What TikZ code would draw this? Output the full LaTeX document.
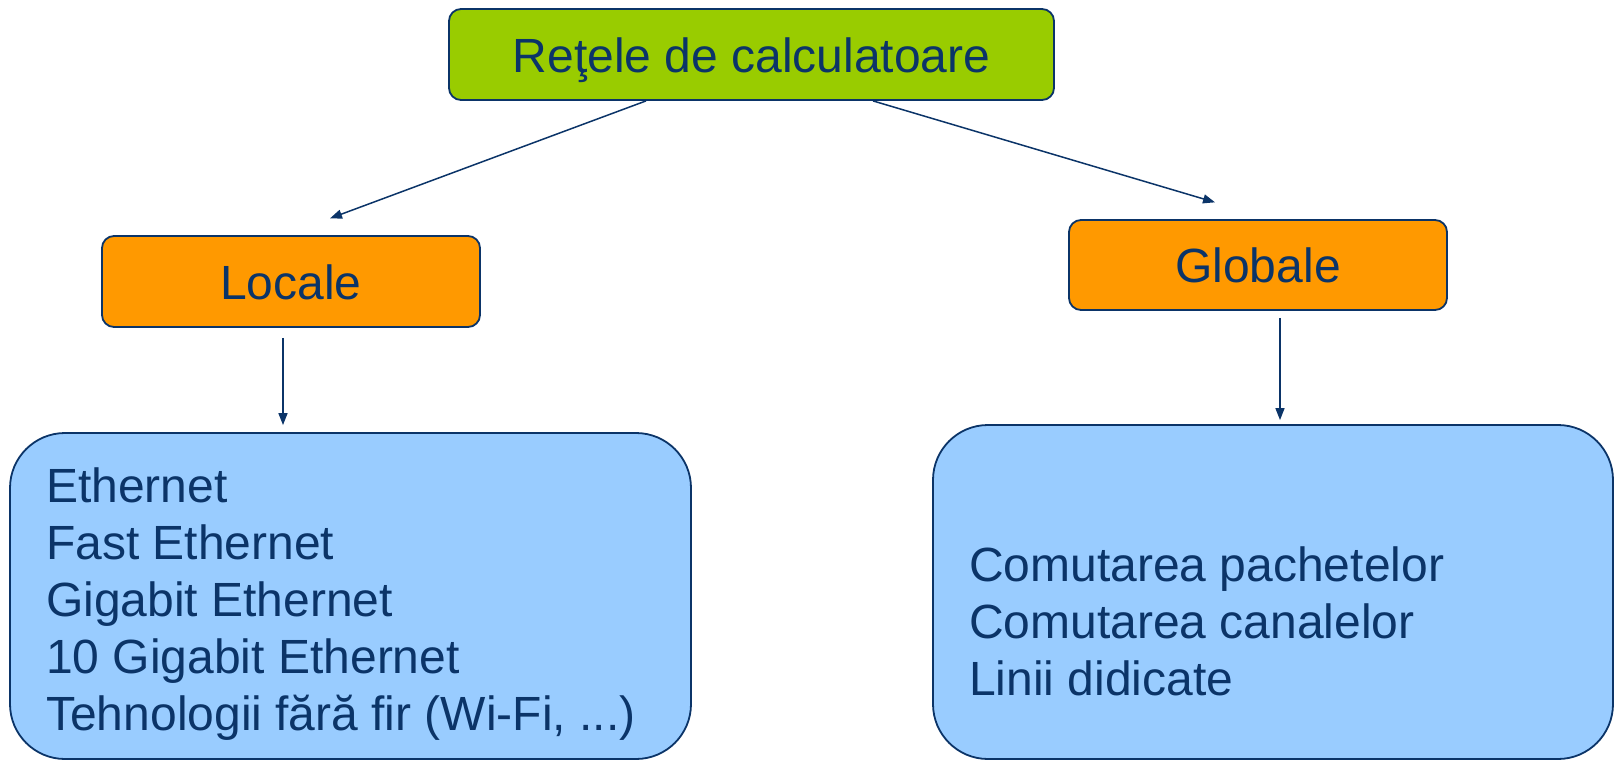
\documentclass[tikz,border=0pt]{standalone}
\usepackage{fontspec}
\setmainfont{Liberation Sans}
\usetikzlibrary{arrows.meta,calc}
\definecolor{navy}{RGB}{11,52,104}
\definecolor{gboxc}{RGB}{153,204,0}
\definecolor{oboxc}{RGB}{255,153,0}
\definecolor{bboxc}{RGB}{153,204,255}
\begin{document}
\begin{tikzpicture}[x=1pt,y=-1pt,
  box/.style={draw=navy,line width=1.8pt,rounded corners=12pt,inner sep=0pt,text=navy,
    text height=35pt,text depth=0pt,font=\fontsize{48}{56}\selectfont},
  bigbox/.style={draw=navy,line width=1.8pt,rounded corners=55pt,fill=bboxc,inner sep=0pt},
  txt/.style={inner sep=0pt,text=navy,align=left,font=\fontsize{48}{57}\selectfont},
  conn/.style={draw=navy,line width=1.5pt,-{Triangle[length=12pt,width=9pt]}}]
\useasboundingbox (0,0) rectangle (1615,761);
\node[box,fill=gboxc,minimum width=605pt,minimum height=91pt] (top) at (751.5,54.5) {Reţele de calculatoare};
\node[box,fill=oboxc,minimum width=378pt,minimum height=91pt] (locale) at (291,281.5) {Locale};
\node[box,fill=oboxc,minimum width=378pt,minimum height=90pt] (globale) at (1258,265) {Globale};
\node[bigbox,minimum width=681pt,minimum height=326pt] (lbox) at (350.5,596) {};
\node[bigbox,minimum width=680pt,minimum height=334pt] (rbox) at (1273,592) {};
\node[txt,anchor=base west] (ltxt) at (46,730) {Ethernet\\Fast Ethernet\\Gigabit Ethernet\\10 Gigabit Ethernet\\Tehnologii fără fir (Wi-Fi, ...)};
\node[txt,anchor=base west] (rtxt) at (969,695) {Comutarea pachetelor\\Comutarea canalelor\\Linii didicate};
\coordinate (s1) at (646,0);
\coordinate (e1) at (285,0);
\coordinate (s2) at (873,0);
\coordinate (e2) at (1271.6,0);
\coordinate (s3) at (283,0);
\coordinate (s4) at (1280,0);
\draw[conn,shorten >=48pt] (top.south -| s1) -- (locale.north -| e1);
\draw[conn,shorten >=59pt] (top.south -| s2) -- (globale.north -| e2);
\draw[conn,shorten <=10pt,shorten >=7pt] (locale.south -| s3) -- (lbox.north -| s3);
\draw[conn,shorten <=7pt,shorten >=4pt] (globale.south -| s4) -- (rbox.north -| s4);
\end{tikzpicture}
\end{document}
